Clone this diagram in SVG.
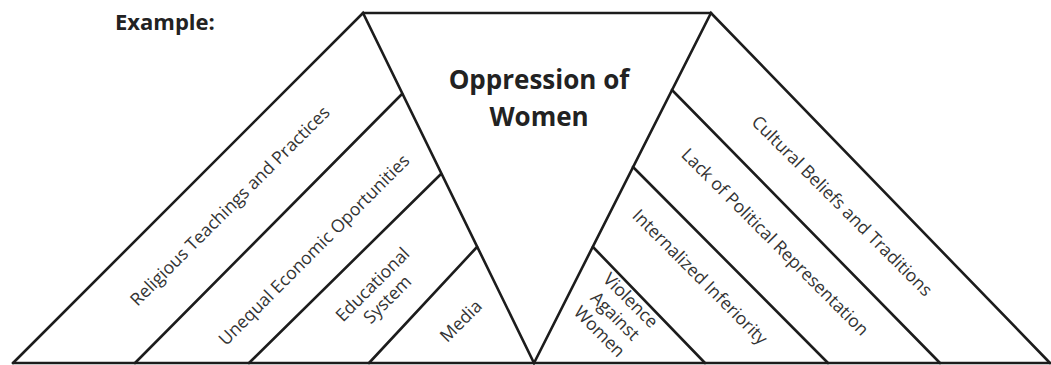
<svg xmlns="http://www.w3.org/2000/svg" width="1051" height="365" viewBox="0 0 1051 365">
<style>
.ln{stroke:#1c1c1c;stroke-width:2.6;fill:none;stroke-linecap:round;stroke-linejoin:miter}
.lbl{font-family:"Open Sans","Noto Sans","Liberation Sans",sans-serif;font-size:17.6px;fill:#333;text-anchor:middle}
.ttl{font-family:"Open Sans","Noto Sans","Liberation Sans",sans-serif;font-weight:bold;fill:#222}
</style>
<rect width="1051" height="365" fill="#fff"/>
<text class="ttl" x="115" y="30" font-size="22">Example:</text>
<g id="connectors">
<line class="ln" x1="13" y1="363" x2="1050" y2="363"/>
<line class="ln" x1="363" y1="13" x2="711" y2="13"/>
<polyline class="ln" points="13,363 363,13 534,363 711,13 1050,363"/>
<line class="ln" x1="135" y1="363" x2="402" y2="94"/>
<line class="ln" x1="249" y1="363" x2="441" y2="174"/>
<line class="ln" x1="369" y1="363" x2="477" y2="247"/>
<line class="ln" x1="672" y1="90" x2="940" y2="363"/>
<line class="ln" x1="633" y1="167" x2="828" y2="363"/>
<line class="ln" x1="593" y1="247" x2="705" y2="363"/>
</g>
<g id="center">
<text class="ttl" x="539" y="89" font-size="26" text-anchor="middle">Oppression of</text>
<text class="ttl" x="539" y="126" font-size="26" text-anchor="middle">Women</text>
</g>
<g id="religious" transform="translate(230,206) rotate(-45)">
<text class="lbl" x="0" y="6">Religious Teachings and Practices</text>
</g>
<g id="economic" transform="translate(314,250) rotate(-45)">
<text class="lbl" x="0" y="6">Unequal Economic Oportunities</text>
</g>
<g id="education" transform="translate(380,292) rotate(-45)">
<text class="lbl" x="0" y="-4.5">Educational</text>
<text class="lbl" x="0" y="16.5">System</text>
</g>
<g id="media" transform="translate(461,321) rotate(-45)">
<text class="lbl" x="0" y="6">Media</text>
</g>
<g id="cultural" transform="translate(842,206) rotate(45)">
<text class="lbl" x="0" y="6">Cultural Beliefs and Traditions</text>
</g>
<g id="political" transform="translate(775,242) rotate(45)">
<text class="lbl" x="0" y="6">Lack of Political Representation</text>
</g>
<g id="inferiority" transform="translate(700,277) rotate(45)">
<text class="lbl" x="0" y="6">Internalized Inferiority</text>
</g>
<g id="violence" transform="translate(615,316) rotate(45)">
<text class="lbl" x="0" y="-16">Violence</text>
<text class="lbl" x="0" y="6">Against</text>
<text class="lbl" x="0" y="28">Women</text>
</g>
</svg>
